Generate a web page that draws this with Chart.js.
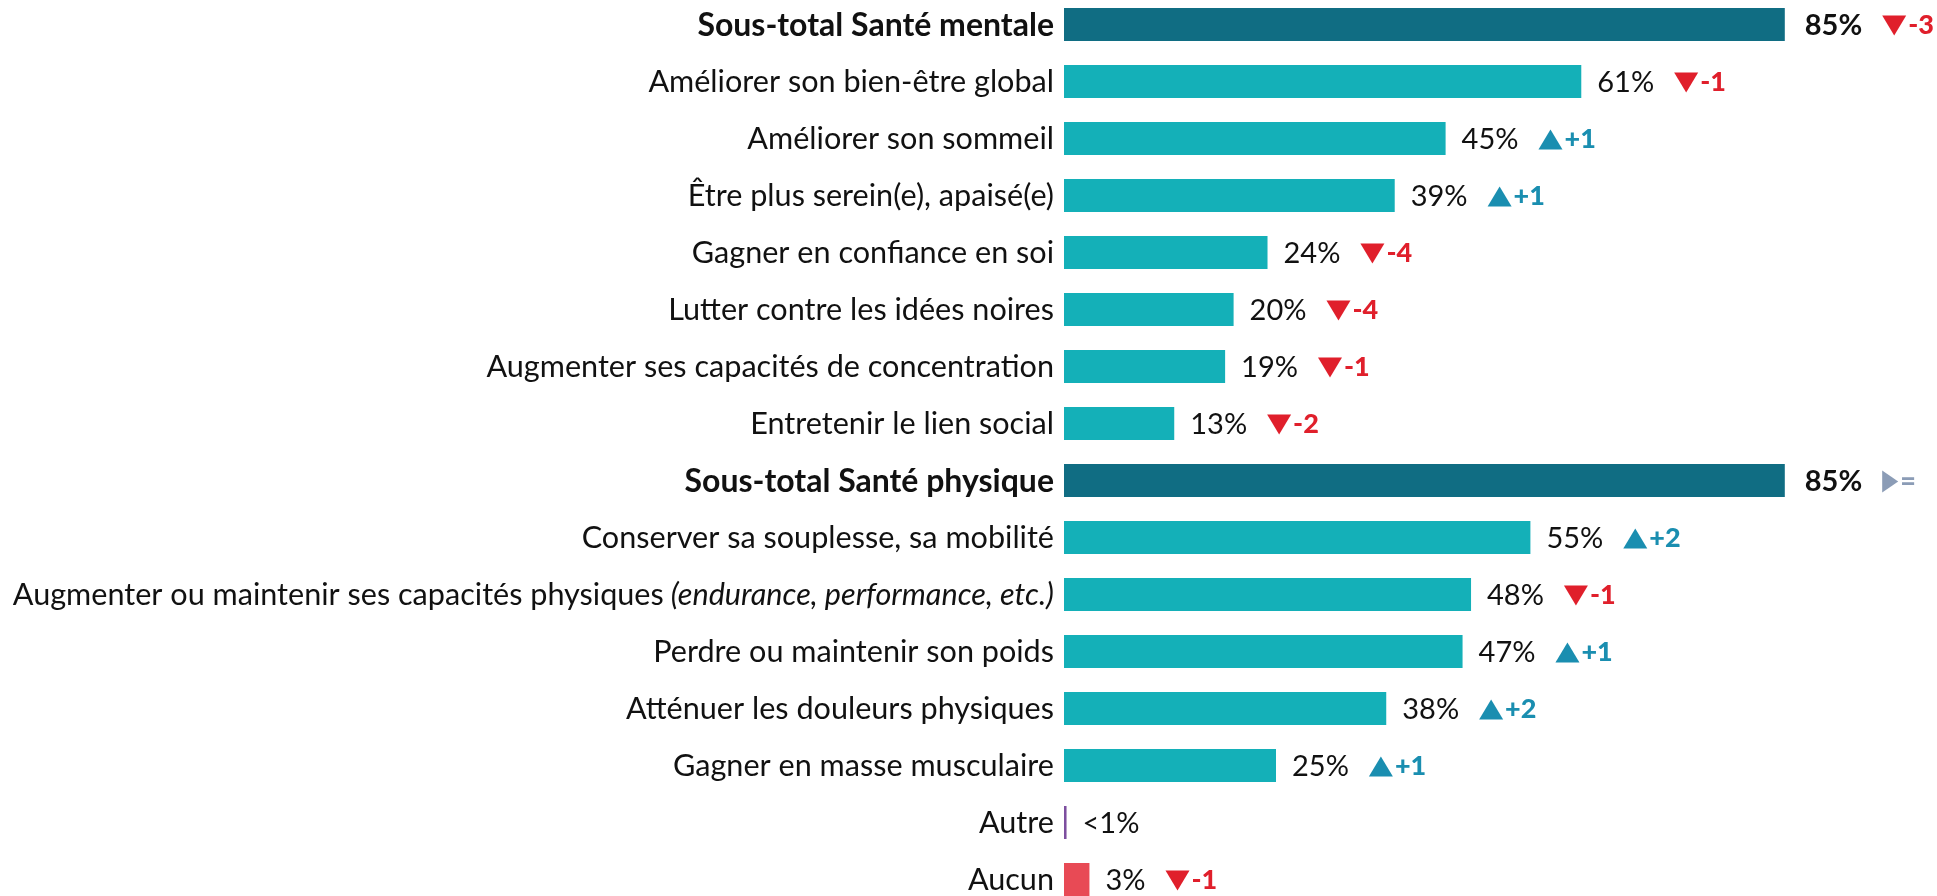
<!DOCTYPE html>
<html>
<head>
<meta charset="utf-8">
<script src="https://cdn.jsdelivr.net/npm/chart.js@4.4.1/dist/chart.umd.min.js"></script>
<style>
  html, body { margin: 0; padding: 0; background: #fff; overflow: hidden; }
  #wrap { position: absolute; left: 0; top: -4px; width: 1937px; height: 912px; }
</style>
</head>
<body>
<div id="wrap"><canvas id="chart"></canvas></div>
<script>
const categories = [
  'Sous-total Santé mentale',
  'Améliorer son bien-être global',
  'Améliorer son sommeil',
  'Être plus serein(e), apaisé(e)',
  'Gagner en confiance en soi',
  'Lutter contre les idées noires',
  'Augmenter ses capacités de concentration',
  'Entretenir le lien social',
  'Sous-total Santé physique',
  'Conserver sa souplesse, sa mobilité',
  'Augmenter ou maintenir ses capacités physiques (endurance, performance, etc.)',
  'Perdre ou maintenir son poids',
  'Atténuer les douleurs physiques',
  'Gagner en masse musculaire',
  'Autre',
  'Aucun'
];
const values = [85, 61, 45, 39, 24, 20, 19, 13, 85, 55, 48, 47, 38, 25, 0.3, 3];
const valueLabels = ['85%', '61%', '45%', '39%', '24%', '20%', '19%', '13%', '85%', '55%', '48%', '47%', '38%', '25%', '<1%', '3%'];
const deltas = ['-3', '-1', '+1', '+1', '-4', '-4', '-1', '-2', '=', '+2', '-1', '+1', '+2', '+1', '', '-1'];

const FONT = 'Lato, "Open Sans", sans-serif';
const LABEL_SIZE = 30.6;
const BOLD_SIZE = 32;
const VALUE_SIZE = 29;

function isSubtotal(i) { return categories[i].startsWith('Sous-total'); }

function barColor(i) {
  if (isSubtotal(i)) return '#106d83';
  if (categories[i] === 'Autre') return '#7d4f9f';
  if (categories[i] === 'Aucun') return '#e84a55';
  return '#14b0b8';
}

// y labels drawn at the scale's own positions (needed for the mixed italic label)
const yLabels = {
  id: 'yLabels',
  afterDatasetsDraw(chart) {
    const ctx = chart.ctx;
    const yScale = chart.scales.y;
    const right = chart.chartArea.left - 10;
    ctx.save();
    ctx.fillStyle = '#111';
    ctx.textBaseline = 'middle';
    ctx.textAlign = 'right';
    categories.forEach((label, i) => {
      const y = yScale.getPixelForValue(i) + 1;
      const cut = label.indexOf(' (');
      if (cut > 0) {
        const main = label.slice(0, cut);
        const extra = label.slice(cut + 1);
        ctx.font = `italic ${LABEL_SIZE}px ${FONT}`;
        ctx.fillText(extra, right, y);
        const w = ctx.measureText(extra).width;
        ctx.font = `${LABEL_SIZE}px ${FONT}`;
        ctx.fillText(main, right - w - 7, y);
      } else if (isSubtotal(i)) {
        ctx.font = `bold ${BOLD_SIZE}px ${FONT}`;
        ctx.fillText(label, right, y);
      } else {
        ctx.font = `${LABEL_SIZE}px ${FONT}`;
        ctx.fillText(label, right, y);
      }
    });
    ctx.restore();
  }
};

// value + evolution labels after each bar
const valueTags = {
  id: 'valueTags',
  afterDatasetsDraw(chart) {
    const ctx = chart.ctx;
    const meta = chart.getDatasetMeta(0);
    ctx.save();
    ctx.textBaseline = 'middle';
    ctx.textAlign = 'left';
    meta.data.forEach((bar, i) => {
      const y = bar.y + 1;
      let x = bar.x + (isSubtotal(i) ? 20 : 16);
      ctx.font = `${isSubtotal(i) ? 'bold ' : ''}${VALUE_SIZE}px ${FONT}`;
      ctx.fillStyle = '#111';
      ctx.fillText(valueLabels[i], x, y);
      x += ctx.measureText(valueLabels[i]).width + 20;

      const d = deltas[i];
      if (!d) return;
      let col;
      ctx.beginPath();
      if (d === '=') {
        col = '#8b9cb6';
        ctx.moveTo(x, y - 11);
        ctx.lineTo(x + 16, y);
        ctx.lineTo(x, y + 11);
      } else if (d.startsWith('-')) {
        col = '#e01f2b';
        ctx.moveTo(x, y - 10);
        ctx.lineTo(x + 24, y - 10);
        ctx.lineTo(x + 12, y + 10);
      } else {
        col = '#1a8eb0';
        ctx.moveTo(x, y + 10);
        ctx.lineTo(x + 24, y + 10);
        ctx.lineTo(x + 12, y - 10);
      }
      ctx.closePath();
      ctx.fillStyle = col;
      ctx.fill();
      x += d === '=' ? 18 : 26;
      ctx.font = `900 27px ${FONT}`;
      ctx.fillText(d, x, y);
    });
    ctx.restore();
  }
};

new Chart(document.getElementById('chart'), {
  type: 'bar',
  data: {
    labels: categories,
    datasets: [{
      data: values,
      backgroundColor: values.map((v, i) => barColor(i)),
      borderWidth: 0,
      barPercentage: 0.58,
      categoryPercentage: 1
    }]
  },
  options: {
    indexAxis: 'y',
    responsive: true,
    maintainAspectRatio: false,
    animation: false,
    layout: { padding: { left: 1064, right: 25, top: 0, bottom: 0 } },
    plugins: {
      legend: { display: false },
      tooltip: { enabled: false }
    },
    scales: {
      x: { min: 0, max: 100, display: false },
      y: { display: false }
    }
  },
  plugins: [yLabels, valueTags]
});
</script>
</body>
</html>
